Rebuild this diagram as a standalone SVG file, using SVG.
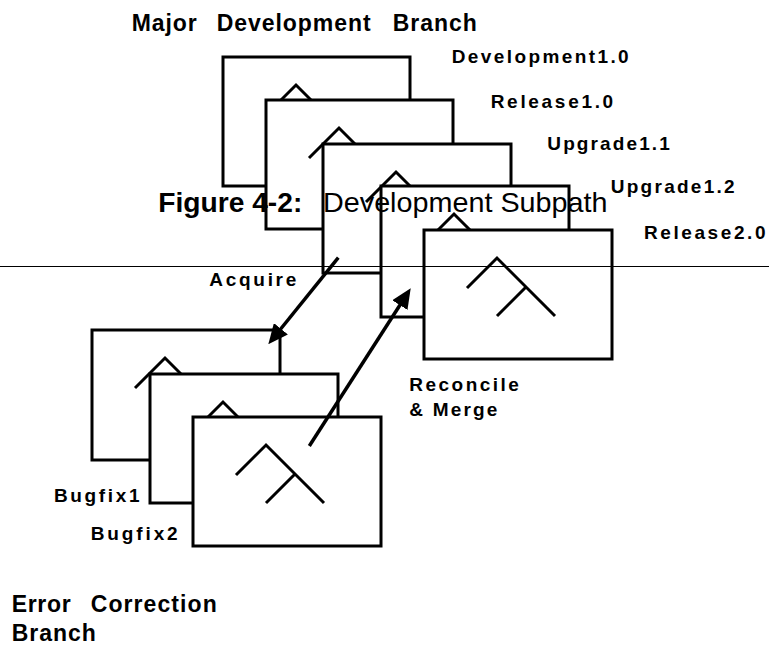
<svg xmlns="http://www.w3.org/2000/svg" xmlns:xlink="http://www.w3.org/1999/xlink" width="769" height="646" viewBox="0 0 769 646">
<style>
.box{fill:#fff;stroke:#000;stroke-width:3}
.sym{fill:none;stroke:#000;stroke-width:3}
.arrow{fill:none;stroke:#000;stroke-width:3.5}
.lbl{font-family:"Liberation Sans",Arial,sans-serif;font-weight:bold;font-size:19px;fill:#000}
.hdr{font-family:"Liberation Sans",Arial,sans-serif;font-weight:bold;font-size:23px;fill:#000}
.ttl{font-family:"Liberation Sans",Arial,sans-serif;font-size:28px;fill:#000}
</style>
<defs>
<path id="glyph" d="M43,58 L73,28 L131,86 M73,86 L102,57" class="sym"/>
<marker id="ah" markerUnits="userSpaceOnUse" markerWidth="20" markerHeight="18" viewBox="0 0 20 18" refX="10" refY="9" orient="auto">
<path d="M0,0 L20,9 L0,18 z" fill="#000"/>
</marker>
</defs>
<g id="dev10"><rect class="box" x="223" y="57" width="187" height="129"/><use xlink:href="#glyph" x="223" y="57"/></g>
<g id="rel10"><rect class="box" x="266" y="100" width="187" height="129"/><use xlink:href="#glyph" x="266" y="100"/></g>
<g id="upg11"><rect class="box" x="323" y="144" width="188" height="129"/><use xlink:href="#glyph" x="323" y="144"/></g>
<g id="upg12"><rect class="box" x="381" y="186" width="188" height="131"/><use xlink:href="#glyph" x="381" y="186"/></g>
<g id="rel20"><rect class="box" x="424" y="230" width="188" height="129"/><use xlink:href="#glyph" x="424" y="230"/></g>
<g id="acq"><rect class="box" x="92" y="330" width="188" height="130"/><use xlink:href="#glyph" x="92" y="330"/></g>
<g id="bug1"><rect class="box" x="150" y="374" width="188" height="129"/><use xlink:href="#glyph" x="150" y="374"/></g>
<g id="bug2"><rect class="box" x="193" y="417" width="188" height="129"/><use xlink:href="#glyph" x="193" y="417"/></g>
<g id="connectors">
<line x1="0" y1="266.5" x2="769" y2="266.5" stroke="#000" stroke-width="1"/>
<line class="arrow" x1="338.3" y1="257.7" x2="274.6" y2="336.5" marker-end="url(#ah)"/>
<line class="arrow" x1="309.3" y1="446" x2="405.3" y2="296.7" marker-end="url(#ah)"/>
</g>
<g id="labels">
<text class="hdr" y="30.5"><tspan x="131.7" textLength="65" lengthAdjust="spacing">Major</tspan><tspan x="216.7" textLength="154" lengthAdjust="spacing">Development</tspan><tspan x="392.7" textLength="84" lengthAdjust="spacing">Branch</tspan></text>
<text class="lbl" x="451.7" y="63.3" textLength="177" lengthAdjust="spacing">Development1.0</text>
<text class="lbl" x="490.7" y="107.7" textLength="122.5" lengthAdjust="spacing">Release1.0</text>
<text class="lbl" x="547.3" y="150" textLength="122.5" lengthAdjust="spacing">Upgrade1.1</text>
<text class="lbl" x="610.7" y="192.7" textLength="124" lengthAdjust="spacing">Upgrade1.2</text>
<text class="lbl" x="644" y="239.3" textLength="121.5" lengthAdjust="spacing">Release2.0</text>
<text class="lbl" x="209.3" y="285.7" textLength="87" lengthAdjust="spacing">Acquire</text>
<text class="lbl" x="409.3" y="390.5" textLength="109.5" lengthAdjust="spacing">Reconcile</text>
<text class="lbl" x="409.3" y="415.7" textLength="88" lengthAdjust="spacing">&amp; Merge</text>
<text class="lbl" x="54" y="502.3" textLength="85.5" lengthAdjust="spacing">Bugfix1</text>
<text class="lbl" x="90.7" y="540" textLength="87" lengthAdjust="spacing">Bugfix2</text>
<text class="hdr" y="612.3"><tspan x="11.7" textLength="59" lengthAdjust="spacing">Error</tspan><tspan x="90.7" textLength="126" lengthAdjust="spacing">Correction</tspan></text>
<text class="hdr" x="11.7" y="641" textLength="84" lengthAdjust="spacing">Branch</text>
<text class="ttl" y="211.7"><tspan x="158.3" font-weight="bold" textLength="144" lengthAdjust="spacingAndGlyphs">Figure 4-2:</tspan><tspan x="323" textLength="284.5" lengthAdjust="spacingAndGlyphs">Development Subpath</tspan></text>
</g>
</svg>
